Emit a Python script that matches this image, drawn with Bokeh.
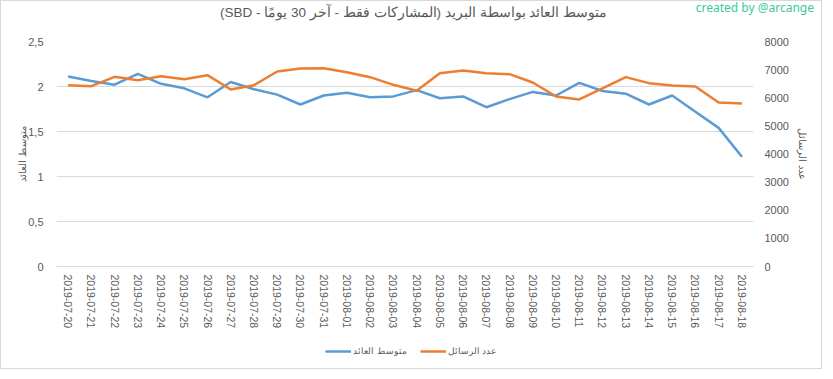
from bokeh.plotting import figure
from bokeh.layouts import column
from bokeh.models import (Range1d, LinearAxis, FixedTicker, Legend, LegendItem,
                          Div, ColumnDataSource)
from bokeh.embed import file_html
from bokeh.resources import INLINE

# ---- data ----
dates = ["2019-07-20", "2019-07-21", "2019-07-22", "2019-07-23", "2019-07-24",
         "2019-07-25", "2019-07-26", "2019-07-27", "2019-07-28", "2019-07-29",
         "2019-07-30", "2019-07-31", "2019-08-01", "2019-08-02", "2019-08-03",
         "2019-08-04", "2019-08-05", "2019-08-06", "2019-08-07", "2019-08-08",
         "2019-08-09", "2019-08-10", "2019-08-11", "2019-08-12", "2019-08-13",
         "2019-08-14", "2019-08-15", "2019-08-16", "2019-08-17", "2019-08-18"]
avg_reward = [2.11, 2.06, 2.02, 2.14, 2.03, 1.98, 1.88, 2.05, 1.97, 1.91,
              1.80, 1.90, 1.93, 1.88, 1.89, 1.96, 1.87, 1.89, 1.77, 1.86,
              1.94, 1.90, 2.04, 1.95, 1.92, 1.80, 1.90, 1.72, 1.54, 1.22]
msg_count = [6448, 6412, 6744, 6625, 6767, 6661, 6803, 6294, 6448, 6934,
             7040, 7052, 6910, 6732, 6460, 6247, 6874, 6970, 6874, 6839,
             6543, 6045, 5938, 6330, 6732, 6519, 6437, 6400, 5831, 5796]
left_ticks = [0, 0.5, 1, 1.5, 2, 2.5]
left_tick_labels = ["0", "0,5", "1", "1,5", "2", "2,5"]
right_ticks = [0, 1000, 2000, 3000, 4000, 5000, 6000, 7000, 8000]

title_text = "متوسط العائد بواسطة البريد (المشاركات فقط - آخر 30 يومًا - SBD)"
left_label = "متوسط العائد"
right_label = "عدد الرسائل"
credit = "created by @arcange"

BLUE = "#5B9BD5"
ORANGE = "#ED7D31"
GRAY = "#595959"
GRID = "#D9D9D9"
FONT = "Liberation Sans"
W = 820

source = ColumnDataSource(data=dict(date=dates, avg=avg_reward, cnt=msg_count))

# ---- header (title + credit) ----
header_html = (
    '<div style="position:relative;width:820px;height:34px;">'
    '<div dir="rtl" style="position:absolute;left:0;top:3px;width:825px;'
    'text-align:center;font-family:\'Liberation Sans\';font-size:13.5px;'
    'line-height:18px;color:#595959;white-space:nowrap;">' + title_text + '</div>'
    '<div style="position:absolute;right:7px;top:0px;'
    'font-family:\'Noto Sans\';font-size:12px;line-height:14px;'
    'color:#3CC8A0;white-space:nowrap;">' + credit + '</div>'
    '</div>')
header = Div(text=header_html, width=W, height=34, margin=0)

# ---- main figure ----
p = figure(frame_width=697, frame_height=225, x_range=dates,
           y_range=Range1d(0, 2.5),
           output_backend="svg", toolbar_location=None,
           min_border_left=55, min_border_right=68,
           min_border_top=6, min_border_bottom=70)
p.title.visible = False
p.outline_line_color = None
p.background_fill_color = "white"
p.border_fill_color = "white"
p.xgrid.visible = False
p.ygrid.grid_line_color = GRID
p.ygrid.grid_line_width = 1
p.margin = 0

p.extra_y_ranges = {"y2": Range1d(0, 8000)}

# left axis
ya = p.yaxis[0]
ya.ticker = FixedTicker(ticks=left_ticks)
ya.major_label_overrides = {t: l for t, l in zip(left_ticks, left_tick_labels)}
ya.axis_line_color = None
ya.major_tick_line_color = None
ya.minor_tick_line_color = None
ya.major_label_standoff = 7
ya.major_label_text_color = GRAY
ya.major_label_text_font = FONT
ya.major_label_text_font_size = "11px"
ya.axis_label = left_label
ya.axis_label_standoff = -3
ya.axis_label_text_color = GRAY
ya.axis_label_text_font = FONT
ya.axis_label_text_font_size = "10px"
ya.axis_label_text_font_style = "normal"

# right axis
ra = LinearAxis(y_range_name="y2", ticker=FixedTicker(ticks=right_ticks),
                axis_label=right_label)
ra.axis_line_color = None
ra.major_tick_line_color = None
ra.minor_tick_line_color = None
ra.major_label_standoff = 5
ra.major_label_text_color = GRAY
ra.major_label_text_font = FONT
ra.major_label_text_font_size = "11px"
ra.axis_label_standoff = 5
ra.axis_label_text_color = GRAY
ra.axis_label_text_font = FONT
ra.axis_label_text_font_size = "10px"
ra.axis_label_text_font_style = "normal"
p.add_layout(ra, "right")

# x axis
xa = p.xaxis[0]
xa.major_label_orientation = "vertical"
xa.axis_line_color = GRID
xa.major_tick_line_color = None
xa.minor_tick_line_color = None
xa.major_label_standoff = 2
xa.major_label_text_color = GRAY
xa.major_label_text_font = FONT
xa.major_label_text_font_size = "10.5px"

p.line(x="date", y="avg", source=source, line_color=BLUE, line_width=2.5)
p.line(x="date", y="cnt", source=source, line_color=ORANGE, line_width=2.5,
       y_range_name="y2")

# ---- legend strip (own small figure so the legend is not clipped) ----
lg = figure(width=W, height=32, x_range=Range1d(0, 1), y_range=Range1d(0, 1),
            output_backend="svg", toolbar_location=None,
            x_axis_location=None, y_axis_location=None,
            min_border=0, min_border_left=0, min_border_right=0,
            min_border_top=0, min_border_bottom=0)
lg.title.visible = False
lg.outline_line_color = None
lg.grid.visible = False
lg.margin = 0
# swatch renderers: their points lie outside the strip's ranges, only the legend shows
lr1 = lg.line(x=[5, 6], y=[5, 6], line_color=BLUE, line_width=2.5)
lr2 = lg.line(x=[5, 6], y=[5, 6], line_color=ORANGE, line_width=2.5)
legend = Legend(items=[LegendItem(label=left_label, renderers=[lr1]),
                       LegendItem(label=right_label, renderers=[lr2])],
                orientation="horizontal", location=(269, 10),
                glyph_width=26, glyph_height=14, label_standoff=2, spacing=13,
                padding=0, margin=0, border_line_color=None,
                background_fill_alpha=0, label_width=50,
                label_text_font=FONT, label_text_font_size="9px",
                label_text_color=GRAY, label_height=14)
lg.add_layout(legend, "center")

layout = column(header, p, lg, spacing=0,
                styles={"border": "1px solid #D9D9D9", "background-color": "white"})

open("out.html", "w").write(file_html(layout, INLINE))
